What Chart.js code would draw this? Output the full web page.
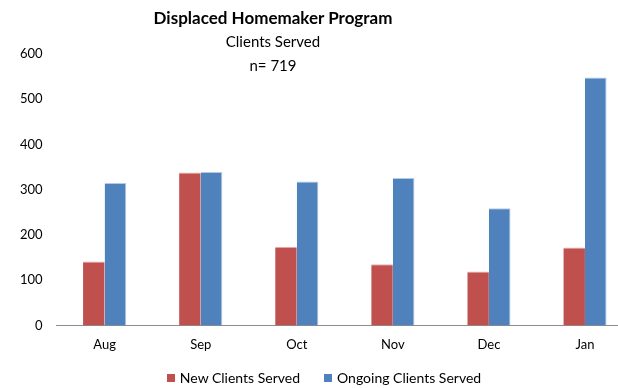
<!DOCTYPE html>
<html>
<head>
<meta charset="utf-8">
<script src="https://cdn.jsdelivr.net/npm/chart.js@4/dist/chart.umd.min.js"></script>
<style>
  html, body { margin: 0; padding: 0; background: #fff; overflow: hidden; }
  #wrap { position: relative; width: 618px; height: 388px; overflow: hidden; }
  #titles { position: absolute; left: 0; top: 6px; width: 546px; text-align: center; font-family: Lato, sans-serif; color: #000; }
  #titles .t1 { font-weight: bold; font-size: 17px; line-height: 23px; }
  #titles .t2 { font-size: 15px; line-height: 24px; }
  #legenda { position: absolute; left: 0; top: 369px; width: 648px; text-align: center; font-family: Lato, sans-serif; font-size: 14px; line-height: 18px; color: #000; }
  #legenda span.polozka { display: inline-block; margin: 0 12px; }
  #legenda span.box { display: inline-block; width: 8px; height: 8px; margin-right: 5px; vertical-align: 1px; }
  canvas { position: absolute; left: 0; top: 0; }
</style>
</head>
<body>
<div id="wrap">
  <canvas id="myChart" width="648" height="388"></canvas>
  <div id="titles">
    <div class="t1">Displaced Homemaker Program</div>
    <div class="t2">Clients Served</div>
    <div class="t2">n= 719</div>
  </div>
  <div id="legenda"></div>
</div>
<script>
// months and client counts
var mesice = ['Aug', 'Sep', 'Oct', 'Nov', 'Dec', 'Jan'];
var noviKlienti = [141, 338, 174, 135, 119, 172];
var stavajiciKlienti = [315, 339, 318, 326, 259, 548];
var osaY = [0, 100, 200, 300, 400, 500, 600];

var ctx = document.getElementById('myChart').getContext('2d');
var myBarChart = new Chart(ctx, {
    type: 'bar',
    data: {
        labels: mesice,
        datasets: [
            {
                label: 'New Clients Served',
                backgroundColor: '#C0504D',
                borderColor: 'rgba(230, 170, 168, 0.9)',
                borderWidth: { top: 1, left: 0, right: 0, bottom: 0 },
                data: noviKlienti
            },
            {
                label: 'Ongoing Clients Served',
                backgroundColor: '#4F81BD',
                borderColor: 'rgba(170, 196, 228, 0.9)',
                borderWidth: { top: 1, left: 0, right: 1, bottom: 0 },
                data: stavajiciKlienti
            }]
    },
    options: {
        responsive: false,
        animation: false,
        layout: { padding: { top: 54, left: 6, right: 15, bottom: 23 } },
        datasets: { bar: { barPercentage: 1, categoryPercentage: 0.45 } },
        scales: {
            x: {
                grid: { display: false, drawTicks: false },
                border: { color: '#8c8c8c', width: 1 },
                ticks: { color: '#000', padding: 12, font: { family: 'Lato', size: 13 } }
            },
            y: {
                min: osaY[0],
                max: osaY[osaY.length - 1],
                grid: { display: false, drawTicks: false },
                border: { display: false },
                afterBuildTicks: function (axis) {
                    axis.ticks = osaY.map(function (v) { return { value: v }; });
                },
                ticks: { color: '#000', padding: 14, font: { family: 'Lato', size: 13 } }
            }
        },
        plugins: {
            legend: { display: false },
            tooltip: { enabled: false }
        }
    }
});

// legenda pod grafem
var legenda = document.getElementById('legenda');
myBarChart.data.datasets.forEach(function (ds) {
    var polozka = document.createElement('span');
    polozka.className = 'polozka';
    var box = document.createElement('span');
    box.className = 'box';
    box.style.background = ds.backgroundColor;
    polozka.appendChild(box);
    polozka.appendChild(document.createTextNode(ds.label));
    legenda.appendChild(polozka);
});
</script>
</body>
</html>
